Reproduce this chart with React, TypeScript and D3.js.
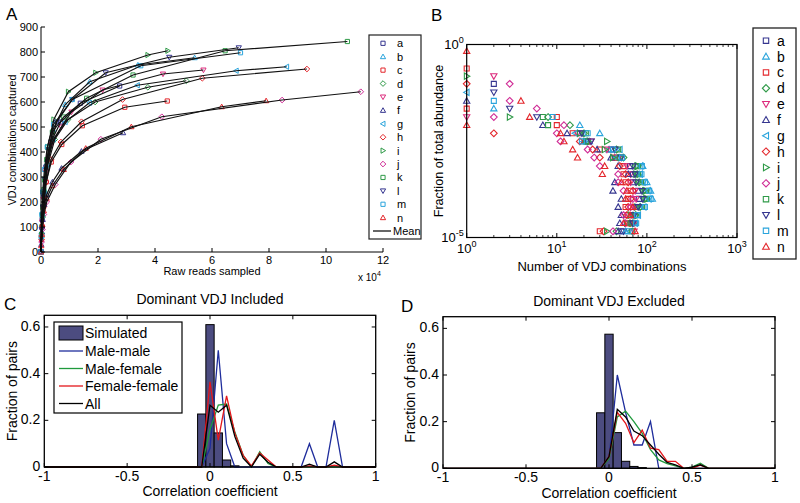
import React from "react";
import * as d3 from "d3";

const FONT = "'Liberation Sans', Arial, Helvetica, sans-serif";

// ---------------- shared sample definitions ----------------
const sampleIds = ["a", "b", "c", "d", "e", "f", "g", "h", "i", "j", "k", "l", "m", "n"];
const sampleColors = ["#35358f", "#2aa4dc", "#e3262b", "#2f9a48", "#dc2a7c", "#35358f", "#2aa4dc", "#e3262b", "#2f9a48", "#d02c96", "#2f9a48", "#35358f", "#2aa4dc", "#e3262b"];
const sampleShapes = ["square", "up", "square", "diamond", "down", "up", "left", "diamond", "right", "diamond", "square", "down", "square", "up"];

// ---------------- Panel A data (raw reads in units of 1e4) ----------------
const readsSampled: number[][] = [
  [0, 0.02, 0.04, 0.09, 0.17, 0.35, 0.69, 1.38, 2.76],
  [0, 0.02, 0.05, 0.1, 0.21, 0.42, 0.85, 1.71, 3.4, 5.39],
  [0, 0.02, 0.04, 0.09, 0.18, 0.36, 0.73, 1.45, 2.94, 4.43],
  [0, 0.02, 0.06, 0.12, 0.24, 0.48, 0.95, 1.9, 3.75, 5.1],
  [0, 0.02, 0.04, 0.09, 0.18, 0.36, 0.71, 1.07, 2.16, 4.28, 5.7],
  [0, 0.01, 0.03, 0.06, 0.12, 0.2, 0.4, 0.72, 1.42, 2.88],
  [0, 0.02, 0.05, 0.11, 0.21, 0.43, 0.85, 1.7, 3.38, 6.85, 8.62],
  [0, 0.02, 0.04, 0.09, 0.18, 0.35, 0.7, 1.42, 2.86, 5.66, 9.33],
  [0, 0.03, 0.06, 0.12, 0.23, 0.45, 0.96, 1.92, 3.75, 4.45],
  [0, 0.02, 0.05, 0.1, 0.2, 0.5, 1.05, 2.1, 4.24, 8.46, 11.22],
  [0, 0.02, 0.05, 0.1, 0.2, 0.4, 0.8, 1.6, 3.23, 6.46, 10.75],
  [0, 0.03, 0.07, 0.14, 0.28, 0.55, 1.1, 2.27, 4.5, 6.94],
  [0, 0.01, 0.03, 0.06, 0.12, 0.22, 0.44, 1.1, 3.5, 7.0],
  [0, 0.01, 0.03, 0.05, 0.1, 0.2, 0.4, 0.8, 1.57, 3.17, 6.34, 7.9],
];
const vdjCaptured: number[][] = [
  [0, 70, 130, 230, 340, 440, 520, 595, 664],
  [0, 80, 160, 250, 370, 490, 590, 681, 748, 777],
  [0, 50, 100, 180, 280, 360, 430, 505, 579, 604],
  [0, 60, 140, 240, 350, 450, 530, 600, 659, 685],
  [0, 60, 120, 210, 320, 430, 500, 560, 648, 712, 728],
  [0, 30, 80, 130, 190, 230, 280, 335, 403, 477],
  [0, 70, 150, 240, 350, 450, 520, 597, 667, 725, 741],
  [0, 50, 100, 180, 280, 370, 440, 521, 610, 695, 732],
  [0, 100, 180, 290, 420, 530, 641, 717, 788, 805],
  [0, 40, 90, 150, 200, 270, 360, 451, 541, 608, 641],
  [0, 70, 150, 250, 370, 480, 540, 615, 708, 805, 842],
  [0, 90, 180, 290, 410, 520, 610, 717, 779, 817],
  [0, 60, 150, 240, 330, 420, 510, 610, 745, 797],
  [0, 25, 70, 110, 165, 215, 265, 330, 415, 501, 581, 605],
];
const xTicksA = [0, 2, 4, 6, 8, 10, 12];
const yTicksA = [0, 100, 200, 300, 400, 500, 600, 700, 800, 900];

// ---------------- Panel B data ----------------
// abundance bins (log10 of fraction of total abundance)
const abundanceExp = [-0.17, -0.62, -0.82, -1.02, -1.24, -1.46, -1.66, -1.88, -2.09, -2.3, -2.51, -2.72, -2.93, -3.15, -3.36, -3.57, -3.79, -4.0, -4.21, -4.42, -4.63, -4.84];
const N = null;
const vdjPerBin: (number | null)[][] = [
  [N, N, N, 2, N, N, N, N, N, 18, 22, 40, 50, 65, 70, 70, 80, 82, 76, 70, 68, 52],
  [N, N, N, N, N, N, 2, N, 18, 30, 23, 38, 44, 90, 82, 100, 110, 115, 85, 70, 72, 58],
  [N, 1, N, N, N, N, 1, 10, 10, 15, 22, 30, 44, 55, 55, 58, 66, 62, 58, 62, 62, 30],
  [N, N, N, N, N, N, N, 8, 14, 20, 22, 46, 55, 75, 78, 82, 92, 95, 84, 75, 70, 46],
  [N, N, 2, N, N, N, N, 1, N, 17, 24, 36, 48, 60, 66, 66, 74, 76, 72, 68, 72, 72],
  [N, N, N, N, N, 1, N, N, 7, 13, 20, 28, 40, 48, 62, 44, 42, 52, 48, 52, 50, 48],
  [N, N, N, N, 1, N, N, N, N, 16, 20, 50, 46, 85, 84, 90, 102, 105, 92, 80, 74, 65],
  [N, N, N, 1, N, N, N, N, N, 2, 18, 25, 30, 50, 58, 62, 70, 66, 62, 60, 65, 33],
  [N, N, 1, N, N, N, N, 3, N, 18, 36, 34, 42, 78, 76, 80, 95, 98, 78, 66, 60, 36],
  [N, N, N, 3, N, 3, 6, 2, 12, 10, 11, 22, 26, 30, 48, 48, 55, 70, 66, 55, 58, 42],
  [N, N, N, N, N, N, N, 7, 8, 21, 21, 48, 50, 80, 80, 86, 98, 100, 88, 74, 66, 68],
  [N, N, N, N, 2, N, 3, 6, N, 19, 24, 44, 52, 70, 74, 76, 88, 90, 80, 72, 70, 55],
  [N, N, N, N, N, 2, N, 9, N, 22, 19, 42, 53, 88, 87, 95, 106, 110, 95, 78, 76, 62],
  [1, N, N, N, N, 4, N, 5, 1, 11, 12, 15, 17, 34, 32, 52, 60, 58, 70, 65, 55, 74],
];
const xDecadesB = [0, 1, 2, 3];
const yDecadesB = [0, -5];

// ---------------- Panel C data (dominant VDJ included) ----------------
const simBinsC = [-0.05, 0, 0.05, 0.1, 0.15];
const simC = [0.227, 0.61, 0.146, 0.03, 0.005];
const corrC = [-1, -0.05, 0, 0.05, 0.1, 0.15, 0.2, 0.25, 0.3, 0.35, 0.4, 0.45, 0.5, 0.55, 0.6, 0.65, 0.7, 0.75, 0.8, 1];
const maleMaleC = [0, 0, 0.08, 0.5, 0.1, 0, 0, 0, 0, 0, 0, 0, 0, 0, 0.1, 0, 0, 0.2, 0, 0];
const maleFemaleC = [0, 0, 0.16, 0.265, 0.27, 0.15, 0.05, 0, 0.065, 0.015, 0, 0, 0, 0, 0, 0, 0, 0, 0, 0];
const femaleFemaleC = [0, 0, 0.365, 0.115, 0.305, 0.145, 0.05, 0.005, 0.06, 0.03, 0, 0, 0, 0, 0.005, 0, 0, 0.008, 0, 0];
const allC = [0, 0, 0.265, 0.235, 0.265, 0.13, 0.038, 0, 0.055, 0.02, 0, 0, 0, 0, 0.012, 0, 0, 0.022, 0, 0];

// ---------------- Panel D data (dominant VDJ excluded) ----------------
const simBinsD = [-0.05, 0, 0.05, 0.1, 0.15, 0.2];
const simD = [0.238, 0.575, 0.153, 0.03, 0.008, 0.003];
const corrD = [-1, -0.05, 0, 0.05, 0.1, 0.15, 0.2, 0.25, 0.3, 0.35, 0.4, 0.45, 0.5, 0.55, 0.6, 1];
const maleMaleD = [0, 0, 0.04, 0.4, 0.24, 0.1, 0.1, 0.2, 0, 0, 0, 0, 0, 0, 0, 0];
const maleFemaleD = [0, 0, 0.04, 0.22, 0.245, 0.2, 0.15, 0.08, 0.036, 0.02, 0.01, 0, 0.005, 0.022, 0, 0];
const femaleFemaleD = [0, 0, 0.05, 0.24, 0.193, 0.11, 0.164, 0.086, 0.08, 0.03, 0.03, 0, 0, 0.014, 0, 0];
const allD = [0, 0, 0.05, 0.253, 0.22, 0.16, 0.14, 0.1, 0.06, 0.025, 0.015, 0, 0.005, 0.015, 0, 0];

const corrTicks = [-1, -0.5, 0, 0.5, 1];
const fracTicks = [0, 0.2, 0.4, 0.6];
const groupNames = ["Male-male", "Male-female", "Female-female", "All"];
const groupColors = ["#1f2d9c", "#1f9a3c", "#e4161b", "#000000"];
const SIM_FILL = "#4c4c80";

// ---------------- helpers ----------------
function markerPath(shape: string, s: number): string {
  const d = s * 1.25;
  switch (shape) {
    case "square":
      return `M${-s},${-s}H${s}V${s}H${-s}Z`;
    case "diamond": {
      const q = s * 1.35;
      return `M0,${-q}L${q},0L0,${q}L${-q},0Z`;
    }
    case "up":
      return `M0,${-d}L${d},${d * 0.75}L${-d},${d * 0.75}Z`;
    case "down":
      return `M0,${d}L${d},${-d * 0.75}L${-d},${-d * 0.75}Z`;
    case "left":
      return `M${-d},0L${d * 0.75},${-d}L${d * 0.75},${d}Z`;
    case "right":
    default:
      return `M${d},0L${-d * 0.75},${-d}L${-d * 0.75},${d}Z`;
  }
}

function fmtCorr(v: number): string {
  return v === 0 ? "0" : String(v);
}

// ---------------- Panel A ----------------
function PanelA() {
  const x = d3.scaleLinear().domain([0, 12]).range([41, 383]);
  const y = d3.scaleLinear().domain([0, 900]).range([252, 27]);
  const line = d3.line<[number, number]>().x((d) => x(d[0])).y((d) => y(d[1]));
  const legY = d3.scaleLinear().domain([0, 13]).range([43.3, 217.7]);
  return (
    <g fontFamily={FONT}>
      <text x={6} y={20} fontSize={17}>A</text>
      {readsSampled.map((xs, i) => (
        <g key={"m" + i} stroke={sampleColors[i]} fill="none" strokeWidth={1}>
          {xs.map((xv, j) => (
            <path key={j} d={markerPath(sampleShapes[i], 2.1)} transform={`translate(${x(xv)},${y(vdjCaptured[i][j])})`} />
          ))}
        </g>
      ))}
      {readsSampled.map((xs, i) => (
        <path key={"l" + i} d={line(xs.map((xv, j) => [xv, vdjCaptured[i][j]] as [number, number])) || ""} fill="none" stroke="#111" strokeWidth={1.2} />
      ))}
      <line x1={41} x2={41} y1={27} y2={252} stroke="#000" strokeWidth={1} />
      <line x1={41} x2={383} y1={252} y2={252} stroke="#000" strokeWidth={1} />
      {yTicksA.map((t) => (
        <g key={"yt" + t}>
          <line x1={41} x2={45} y1={y(t)} y2={y(t)} stroke="#000" />
          <text x={38} y={y(t)} dy="0.36em" textAnchor="end" fontSize={11}>{t}</text>
        </g>
      ))}
      {xTicksA.map((t) => (
        <g key={"xt" + t}>
          <line x1={x(t)} x2={x(t)} y1={252} y2={248} stroke="#000" />
          <text x={x(t)} y={264} textAnchor="middle" fontSize={11}>{t}</text>
        </g>
      ))}
      <text x={212} y={275} textAnchor="middle" fontSize={11}>Raw reads sampled</text>
      <text x={358} y={281} fontSize={10}>x 10<tspan dy={-5} fontSize={7}>4</tspan></text>
      <text transform="translate(16,140) rotate(-90)" textAnchor="middle" fontSize={10.7}>VDJ combinations captured</text>
      <rect x={369} y={35} width={52} height={204} fill="#fff" stroke="#222" strokeWidth={1.2} />
      {sampleIds.map((id, i) => (
        <g key={"lg" + id}>
          <path d={markerPath(sampleShapes[i], 2.1)} transform={`translate(383,${legY(i)})`} fill="none" stroke={sampleColors[i]} strokeWidth={1} />
          <text x={397} y={legY(i)} dy="0.36em" fontSize={11}>{id}</text>
        </g>
      ))}
      <line x1={373} x2={391} y1={231} y2={231} stroke="#000" strokeWidth={1.2} />
      <text x={393} y={231} dy="0.36em" fontSize={11}>Mean</text>
    </g>
  );
}

// ---------------- Panel B ----------------
function PanelB() {
  const L = 466.7, R = 737, T = 44.5, B = 237.5;
  const x = d3.scaleLog().domain([1, 1000]).range([L, R]);
  const y = d3.scaleLog().domain([1e-5, 1]).range([B, T]);
  const minor: number[] = [];
  [1, 10, 100].forEach((dec) => {
    [2, 3, 4, 5, 6, 7, 8, 9].forEach((k) => minor.push(k * dec));
  });
  const legY = d3.scaleLinear().domain([0, 13]).range([40.7, 246.7]);
  return (
    <g fontFamily={FONT}>
      <text x={431} y={21} fontSize={17}>B</text>
      {vdjPerBin.map((row, i) => (
        <g key={"s" + i} stroke={sampleColors[i]} fill="none" strokeWidth={1.1}>
          {row.map((c, r) =>
            c === null ? null : (
              <path key={r} d={markerPath(sampleShapes[i], 2.5)} transform={`translate(${x(c)},${y(Math.pow(10, abundanceExp[r]))})`} />
            )
          )}
        </g>
      ))}
      <rect x={L} y={T} width={R - L} height={B - T} fill="none" stroke="#000" strokeWidth={1.2} />
      {minor.map((v) => (
        <g key={"mn" + v}>
          <line x1={x(v)} x2={x(v)} y1={B} y2={B - 2.5} stroke="#000" strokeWidth={0.8} />
          <line x1={x(v)} x2={x(v)} y1={T} y2={T + 2.5} stroke="#000" strokeWidth={0.8} />
        </g>
      ))}
      {xDecadesB.map((e) => (
        <g key={"xd" + e}>
          <line x1={x(Math.pow(10, e))} x2={x(Math.pow(10, e))} y1={B} y2={B - 4.5} stroke="#000" />
          <line x1={x(Math.pow(10, e))} x2={x(Math.pow(10, e))} y1={T} y2={T + 4.5} stroke="#000" />
          <text x={x(Math.pow(10, e))} y={253} textAnchor="middle" fontSize={13}>10<tspan dy={-6} fontSize={9}>{e}</tspan></text>
        </g>
      ))}
      {yDecadesB.map((e) => (
        <text key={"yd" + e} x={L - 3} y={y(Math.pow(10, e)) + 4} textAnchor="end" fontSize={13}>10<tspan dy={-6} fontSize={9}>{e}</tspan></text>
      ))}
      <text x={602} y={271} textAnchor="middle" fontSize={13}>Number of VDJ combinations</text>
      <text transform="translate(443,141) rotate(-90)" textAnchor="middle" fontSize={12.6}>Fraction of total abundance</text>
      <rect x={753} y={28} width={43} height={231} fill="#fff" stroke="#222" strokeWidth={1.3} />
      {sampleIds.map((id, i) => (
        <g key={"lb" + id}>
          <path d={markerPath(sampleShapes[i], 2.7)} transform={`translate(766,${legY(i)})`} fill="none" stroke={sampleColors[i]} strokeWidth={1.1} />
          <text x={777} y={legY(i)} dy="0.36em" fontSize={14}>{id}</text>
        </g>
      ))}
    </g>
  );
}

// ---------------- Panels C / D ----------------
type HistProps = {
  L: number; R: number; T: number; B: number;
  letter: string; letterX: number; letterY: number;
  title: string; titleY: number; xLabelY: number; yLabelX: number;
  bins: number[]; sim: number[]; corr: number[]; groups: number[][];
  legend: boolean;
};

function HistPanel(p: HistProps) {
  const x = d3.scaleLinear().domain([-1, 1]).range([p.L, p.R]);
  const y = d3.scaleLinear().domain([0, 0.65]).range([p.B, p.T]);
  const line = d3.line<number>().x((_, i) => x(p.corr[i])).y((d) => y(d));
  const bw = x(0.05) - x(0);
  const cx = (p.L + p.R) / 2;
  return (
    <g fontFamily={FONT}>
      <text x={p.letterX} y={p.letterY} fontSize={17}>{p.letter}</text>
      <text x={cx} y={p.titleY} textAnchor="middle" fontSize={14}>{p.title}</text>
      {p.bins.map((b, i) => (
        <rect key={"b" + i} x={x(b) - bw / 2} y={y(p.sim[i])} width={bw} height={p.B - y(p.sim[i])} fill={SIM_FILL} stroke="#000" strokeWidth={1} />
      ))}
      {p.groups.map((g, i) => (
        <path key={"g" + i} d={line(g) || ""} fill="none" stroke={groupColors[i]} strokeWidth={1.3} strokeLinejoin="miter" />
      ))}
      <rect x={p.L} y={p.T} width={p.R - p.L} height={p.B - p.T} fill="none" stroke="#000" strokeWidth={1.3} />
      {corrTicks.map((t) => (
        <g key={"xt" + t}>
          <line x1={x(t)} x2={x(t)} y1={p.B} y2={p.B - 4} stroke="#000" />
          <line x1={x(t)} x2={x(t)} y1={p.T} y2={p.T + 4} stroke="#000" />
          <text x={x(t)} y={p.B + 14} textAnchor="middle" fontSize={14}>{fmtCorr(t)}</text>
        </g>
      ))}
      {fracTicks.map((t) => (
        <g key={"yt" + t}>
          <line x1={p.L} x2={p.L + 4} y1={y(t)} y2={y(t)} stroke="#000" />
          <line x1={p.R} x2={p.R - 4} y1={y(t)} y2={y(t)} stroke="#000" />
          <text x={p.L - 4} y={y(t) - 1} dy="0.36em" textAnchor="end" fontSize={14}>{t}</text>
        </g>
      ))}
      <text x={cx} y={p.xLabelY} textAnchor="middle" fontSize={14}>Correlation coefficient</text>
      <text transform={`translate(${p.yLabelX},${(p.T + p.B) / 2}) rotate(-90)`} textAnchor="middle" fontSize={14}>Fraction of pairs</text>
      {p.legend && (
        <g>
          <rect x={54} y={322} width={128} height={91} fill="#fff" stroke="#000" strokeWidth={1.2} />
          <rect x={59} y={326} width={24} height={14} fill={SIM_FILL} stroke="#000" strokeWidth={1} />
          <text x={85} y={333} dy="0.36em" fontSize={14}>Simulated</text>
          {groupNames.map((name, i) => (
            <g key={name}>
              <line x1={59} x2={83} y1={351 + i * 17.5} y2={351 + i * 17.5} stroke={groupColors[i]} strokeWidth={1.3} />
              <text x={85} y={351 + i * 17.5} dy="0.36em" fontSize={14}>{name}</text>
            </g>
          ))}
        </g>
      )}
    </g>
  );
}

export default function App() {
  return (
    <svg width={800} height={503} viewBox="0 0 800 503" style={{ position: "absolute", left: 0, top: 0, background: "#fff" }}>
      <rect x={0} y={0} width={800} height={503} fill="#fff" />
      <PanelA />
      <PanelB />
      <HistPanel
        L={44.3} R={375.7} T={315.3} B={467}
        letter="C" letterX={4} letterY={310}
        title="Dominant VDJ Included" titleY={304}
        xLabelY={496} yLabelX={17}
        bins={simBinsC} sim={simC} corr={corrC}
        groups={[maleMaleC, maleFemaleC, femaleFemaleC, allC]}
        legend={true}
      />
      <HistPanel
        L={443} R={775} T={316.7} B={468.3}
        letter="D" letterX={401} letterY={312}
        title="Dominant VDJ Excluded" titleY={306}
        xLabelY={497.5} yLabelX={415}
        bins={simBinsD} sim={simD} corr={corrD}
        groups={[maleMaleD, maleFemaleD, femaleFemaleD, allD]}
        legend={false}
      />
    </svg>
  );
}
